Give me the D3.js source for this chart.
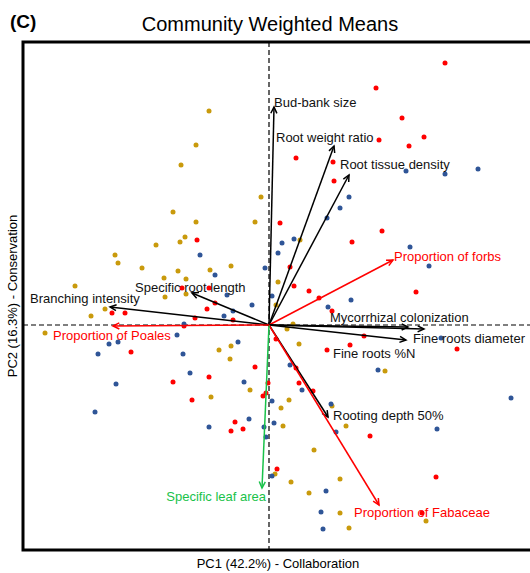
<!DOCTYPE html>
<html lang="en">
<head>
  <meta charset="utf-8">
  <title>Community Weighted Means - PCA biplot</title>
  <script src="https://d3js.org/d3.v7.min.js"></script>
  <style>
    body {
      margin: 0;
      background: #fff;
      font-family: "Liberation Sans", Arial, sans-serif;
    }
  </style>
</head>
<body>
<script>
  // ----------------------------------------------------
  // Data (site scores per group, trait loadings)
  // ----------------------------------------------------
  const goldScores = [
    [-0.60, 2.14], [-0.73, 1.80], [-0.88, 1.60], [-0.08, 1.28], [-0.96, 1.13],
    [-0.73, 1.03], [-0.14, 1.03], [-0.84, 0.88], [-0.89, 0.83], [-1.13, 0.80],
    [-1.54, 0.70], [-1.51, 0.62], [-1.27, 0.57], [-0.91, 0.54], [-0.59, 0.55],
    [-0.38, 0.59], [-1.05, 0.47], [-0.83, 0.46], [-1.94, 0.39], [-0.83, 0.31],
    [-1.04, 0.28], [-1.64, 0.16], [-1.78, 0.09], [0.31, 0.85], [0.09, 0.43],
    [0.07, 0.20], [0.24, 0.01], [0.18, -0.04], [-2.24, -0.08], [-0.50, -0.25],
    [-0.38, -0.21], [-0.39, -0.34], [-0.19, -0.65], [-0.58, -0.72], [0.30, -0.19],
    [1.16, -0.46], [0.20, -0.75], [0.12, -0.83], [0.63, -0.81], [0.14, -1.01],
    [0.77, -1.01], [0.45, -1.25], [0.06, -1.49], [0.71, -1.54], [0.22, -1.57],
    [0.40, -1.68], [0.71, -1.88], [1.57, -1.96], [0.80, -2.03]
  ];

  const redScores = [
    [1.76, 2.62], [1.07, 2.37], [1.33, 2.07], [1.10, 1.85], [1.55, 1.88],
    [1.40, 1.79], [0.27, 1.67], [0.64, 1.63], [0.65, 1.44], [-0.72, 0.85],
    [0.11, 1.02], [1.13, 0.94], [0.83, 0.83], [0.21, 0.58], [0.25, 0.39],
    [0.40, 0.34], [0.50, 0.27], [1.47, 0.33], [0.63, 0.14], [-0.87, 0.37],
    [-0.60, 0.37], [-0.54, 0.22], [-0.62, 0.16], [-1.57, 0.12], [-1.44, 0.12],
    [-0.74, 0.07], [-0.36, 0.05], [-0.85, -0.01], [0.07, -0.14], [0.95, -0.11],
    [1.88, -0.24], [0.81, -0.20], [0.58, -0.25], [-1.38, -0.27], [-0.14, -0.42],
    [-0.60, -0.52], [-0.96, -0.57], [0.27, -0.43], [-0.01, -0.58], [0.30, -0.58],
    [0.44, -0.66], [-0.03, -0.68], [-0.06, -0.71], [-0.77, -0.75], [-0.34, -0.97],
    [-0.26, -1.04], [-0.38, -1.06], [1.01, -1.11], [0.08, -1.44], [1.67, -1.52],
    [1.53, -1.88]
  ];

  const blueScores = [
    [1.37, 1.54], [1.76, 1.51], [2.09, 1.56], [0.80, 1.28], [0.71, 1.17],
    [0.58, 1.07], [0.13, 0.82], [0.25, 0.86], [0.09, 0.72], [1.41, 0.78],
    [1.60, 0.59], [-0.69, 0.70], [-0.04, 0.57], [-0.54, 0.50], [-0.42, 0.30],
    [-0.17, 0.20], [-0.36, 0.14], [-0.45, 0.09], [-0.85, 0.01], [0.03, 0.29],
    [0.82, 0.25], [0.59, 0.18], [-0.92, -0.10], [-1.60, -0.19], [-1.51, -0.17],
    [-1.71, -0.29], [-0.86, -0.29], [-0.31, -0.17], [-0.79, -0.48], [-1.53, -0.59],
    [-0.25, -0.57], [-1.74, -0.87], [-0.60, -1.02], [-0.20, -0.94], [-0.05, -1.02],
    [-0.03, -1.12], [1.72, -0.13], [0.21, -0.40], [1.09, -0.45], [0.33, -0.65],
    [0.03, -0.76], [0.62, -0.79], [2.42, -0.73], [0.05, -0.98], [0.67, -1.07],
    [1.68, -1.04], [0.03, -1.51], [0.57, -1.66], [0.52, -1.87], [0.54, -2.04]
  ];

  const loadingNames = [
    "Bud-bank size", "Root weight ratio", "Root tissue density", "Proportion of forbs",
    "Mycorrhizal colonization", "Fine roots diameter", "Fine roots %N", "Rooting depth 50%",
    "Proportion of Fabaceae", "Specific leaf area", "Specific root length",
    "Branching intensity", "Proportion of Poales"
  ];
  const loadingPC1 = [0.05, 0.65, 0.80, 1.24, 1.39, 1.55, 1.37, 0.59, 1.10, -0.07, -0.77, -1.59, -1.56];
  const loadingPC2 = [2.18, 1.79, 1.50, 0.65, -0.02, -0.04, -0.15, -0.92, -1.80, -1.63, 0.32, 0.18, -0.01];
  const loadingKind = [
    "root", "root", "root", "family", "root", "root", "root", "root",
    "family", "leaf", "root", "root", "family"
  ];

  // ----------------------------------------------------
  // Layout & styles
  // ----------------------------------------------------
  const width = 530, height = 573;
  const frame = { left: 23, right: 533, top: 42, bottom: 550 };

  const groupColors = { gold: "#c99a0c", red: "#ff0000", blue: "#2f5597" };
  const kindColors = { root: "#000000", family: "#ff0000", leaf: "#19c24a" };

  // label offsets from the arrow tip (px)
  const labelPlacement = {
    "Bud-bank size":            { dx: 0,   dy: -5,  anchor: "start" },
    "Root weight ratio":        { dx: -58, dy: -9,  anchor: "start" },
    "Root tissue density":      { dx: -9,  dy: -11, anchor: "start" },
    "Proportion of forbs":      { dx: 1,   dy: -4,  anchor: "start" },
    "Mycorrhizal colonization": { dx: -78, dy: -10, anchor: "start" },
    "Fine roots diameter":      { dx: -11, dy: 9,   anchor: "start" },
    "Fine roots %N":            { dx: -73, dy: 13,  anchor: "start" },
    "Rooting depth 50%":        { dx: 5,   dy: -2,  anchor: "start" },
    "Proportion of Fabaceae":   { dx: -25, dy: 7,   anchor: "start" },
    "Specific leaf area":       { dx: 4,   dy: 8,   anchor: "end" },
    "Specific root length":     { dx: -57, dy: -6,  anchor: "start" },
    "Branching intensity":      { dx: -80, dy: -9,  anchor: "start" },
    "Proportion of Poales":     { dx: -60, dy: 9,   anchor: "start" }
  };

  const svg = d3.select("body")
    .append("svg")
    .attr("width", width)
    .attr("height", height);

  const x = d3.scaleLinear().domain([-2.46, 2.64]).range([frame.left, frame.right]);
  const y = d3.scaleLinear().domain([-2.25, 2.83]).range([frame.bottom, frame.top]);

  // ----------------------------------------------------
  // Titles
  // ----------------------------------------------------
  svg.append("text")
    .attr("x", 10).attr("y", 28)
    .attr("font-size", "19px")
    .attr("font-weight", "bold")
    .text("(C)");

  svg.append("text")
    .attr("x", 270).attr("y", 31)
    .attr("text-anchor", "middle")
    .attr("font-size", "20px")
    .text("Community Weighted Means");

  svg.append("text")
    .attr("x", (frame.left + frame.right) / 2).attr("y", 568)
    .attr("text-anchor", "middle")
    .attr("font-size", "13px")
    .text("PC1 (42.2%) - Collaboration");

  svg.append("text")
    .attr("transform", `translate(17,${(frame.top + frame.bottom) / 2}) rotate(-90)`)
    .attr("text-anchor", "middle")
    .attr("font-size", "13px")
    .text("PC2 (16.3%) - Conservation");

  // ----------------------------------------------------
  // Plot area
  // ----------------------------------------------------
  const plot = svg.append("g");

  // zero lines
  plot.append("line")
    .attr("x1", x(0)).attr("x2", x(0))
    .attr("y1", frame.top).attr("y2", frame.bottom)
    .attr("stroke", "#000").attr("stroke-width", 1.2)
    .attr("stroke-dasharray", "5,3");
  plot.append("line")
    .attr("x1", frame.left).attr("x2", frame.right)
    .attr("y1", y(0)).attr("y2", y(0))
    .attr("stroke", "#000").attr("stroke-width", 1.2)
    .attr("stroke-dasharray", "5,3");

  // site points
  const groups = [
    { key: "gold", scores: goldScores },
    { key: "red", scores: redScores },
    { key: "blue", scores: blueScores }
  ];
  groups.forEach(g => {
    plot.append("g")
      .selectAll("circle")
      .data(g.scores)
      .join("circle")
      .attr("cx", d => x(d[0]))
      .attr("cy", d => y(d[1]))
      .attr("r", 2.5)
      .attr("fill", groupColors[g.key]);
  });

  // loadings
  const loadings = loadingNames.map((name, i) => ({
    name, pc1: loadingPC1[i], pc2: loadingPC2[i], kind: loadingKind[i]
  }));

  const headLen = 7;
  const headAngle = Math.PI / 7;

  const arrows = plot.append("g")
    .selectAll("g")
    .data(loadings)
    .join("g");

  arrows.append("line")
    .attr("x1", x(0)).attr("y1", y(0))
    .attr("x2", d => x(d.pc1)).attr("y2", d => y(d.pc2))
    .attr("stroke", d => kindColors[d.kind])
    .attr("stroke-width", 1.5);

  arrows.append("path")
    .attr("d", d => {
      const tx = x(d.pc1), ty = y(d.pc2);
      const a = Math.atan2(ty - y(0), tx - x(0));
      const p1 = [tx - headLen * Math.cos(a - headAngle), ty - headLen * Math.sin(a - headAngle)];
      const p2 = [tx - headLen * Math.cos(a + headAngle), ty - headLen * Math.sin(a + headAngle)];
      return `M${p1[0]},${p1[1]}L${tx},${ty}L${p2[0]},${p2[1]}`;
    })
    .attr("fill", "none")
    .attr("stroke", d => kindColors[d.kind])
    .attr("stroke-width", 1.5);

  arrows.append("text")
    .attr("x", d => x(d.pc1) + labelPlacement[d.name].dx)
    .attr("y", d => y(d.pc2) + labelPlacement[d.name].dy)
    .attr("dy", "0.35em")
    .attr("text-anchor", d => labelPlacement[d.name].anchor)
    .attr("font-size", "13px")
    .attr("fill", d => kindColors[d.kind] === "#000000" ? "#111" : kindColors[d.kind])
    .text(d => d.name);

  // frame
  svg.append("rect")
    .attr("x", frame.left).attr("y", frame.top)
    .attr("width", frame.right - frame.left)
    .attr("height", frame.bottom - frame.top)
    .attr("fill", "none")
    .attr("stroke", "#000")
    .attr("stroke-width", 3);
</script>
</body>
</html>
